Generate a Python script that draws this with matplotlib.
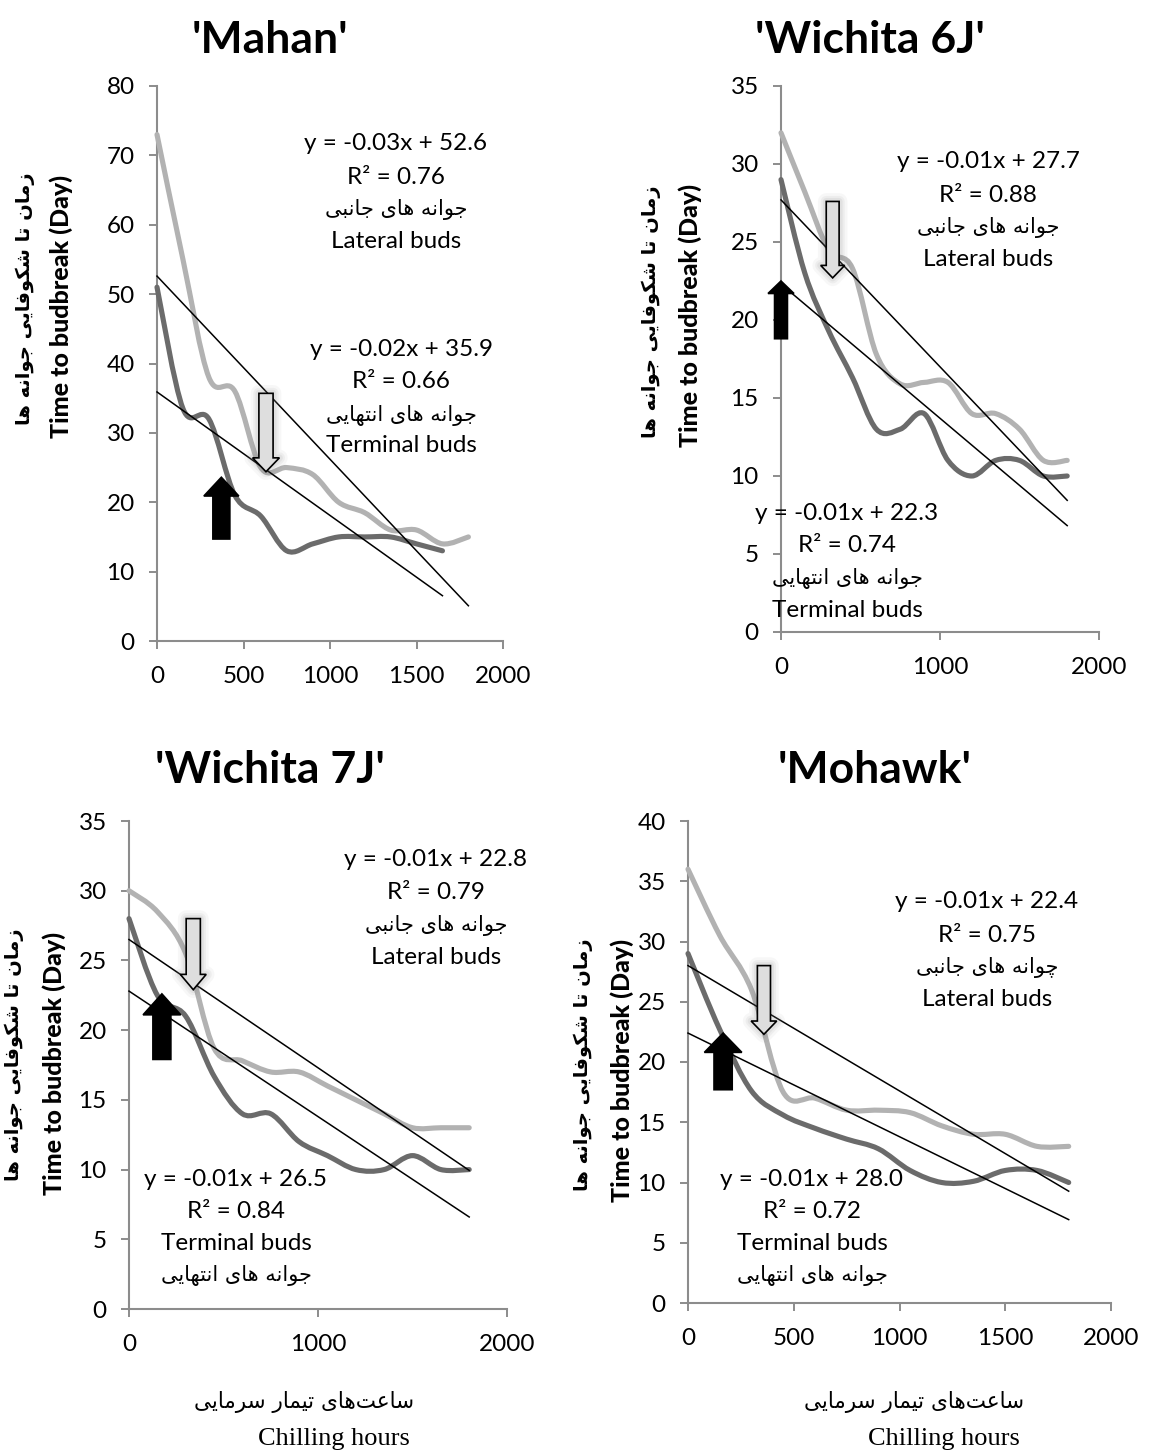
import numpy as np
import matplotlib
matplotlib.use('Agg')
import matplotlib.pyplot as plt
from matplotlib.path import Path
from matplotlib.patches import PathPatch, Polygon

plt.rcParams['font.family'] = ['Lato', 'DejaVu Sans']

W, H = 1157, 1456  # 输出像素大小

# 低温处理小时数
hours = [0, 150, 300, 450, 600, 750, 900, 1050, 1200, 1350, 1500, 1650, 1800]

# 萌芽所需天数：侧芽(lat) / 顶芽(term)
mahan_lat = [73, 55, 38, 36, 25, 25, 24, 20, 18.5, 16, 16, 14, 15]
mahan_term = [51, 33.5, 32, 21, 18, 13, 14, 15, 15, 15, 14, 13]  # 只到1650
w6j_lat = [32, 28.2, 24.5, 23.3, 17.8, 15.9, 16, 16, 14, 14, 13, 11, 11]
w6j_term = [29, 23, 19.3, 16.3, 13, 13, 14, 11, 10, 11, 11, 10, 10]
w7j_lat = [30, 28.5, 25.5, 18.7, 17.8, 17, 17, 16, 15, 14, 13, 13, 13]
w7j_term = [28, 22.5, 21, 16.7, 14, 14, 12, 11, 10, 10, 11, 10, 10]
mohawk_lat = [36, 30.5, 26, 17.5, 17, 16, 16, 15.8, 14.7, 14, 14, 13, 13]
mohawk_term = [29, 22.7, 17.6, 15.6, 14.5, 13.6, 12.8, 11, 10, 10.1, 11, 11, 10]

# 趋势线 (斜率, 截距, R2)，上面一组标注在右上角，下面一组标注在下方
mahan_fit_lat = (-0.0264, 52.6, 0.76)
mahan_fit_term = (-0.0178, 35.9, 0.66)
w6j_fit_lat = (-0.0107, 27.7, 0.88)
w6j_fit_term = (-0.0086, 22.3, 0.74)
w7j_fit_lat = (-0.0090, 22.8, 0.79)
w7j_fit_term = (-0.0092, 26.5, 0.84)
mohawk_fit_lat = (-0.0086, 22.4, 0.75)
mohawk_fit_term = (-0.0104, 28.0, 0.72)

titles = ["'Mahan'", "'Wichita 6J'", "'Wichita 7J'", "'Mohawk'"]
y_max = [80, 35, 35, 40]
y_step = [10, 5, 5, 5]
x_step = [500, 1000, 1000, 500]

ylab_fa = 'زمان تا شکوفایی جوانه ها'
ylab_en = 'Time to budbreak (Day)'
lat_fa = 'جوانه های جانبی'
lat_fa2 = 'چوانه های جانبی'
term_fa = 'جوانه های انتهایی'
xlab_fa = 'ساعت\u200cهای تیمار سرمایی'
xlab_en = 'Chilling hours'

# 波斯文字形 (孤立, 词尾, 词首, 词中)
FORMS = {
    'ا': ('\uFE8D', '\uFE8E', None, None),
    'ب': ('\uFE8F', '\uFE90', '\uFE91', '\uFE92'),
    'ت': ('\uFE95', '\uFE96', '\uFE97', '\uFE98'),
    'ج': ('\uFE9D', '\uFE9E', '\uFE9F', '\uFEA0'),
    'چ': ('\uFB7A', '\uFB7B', '\uFB7C', '\uFB7D'),
    'ر': ('\uFEAD', '\uFEAE', None, None),
    'ز': ('\uFEAF', '\uFEB0', None, None),
    'س': ('\uFEB1', '\uFEB2', '\uFEB3', '\uFEB4'),
    'ش': ('\uFEB5', '\uFEB6', '\uFEB7', '\uFEB8'),
    'ع': ('\uFEC9', '\uFECA', '\uFECB', '\uFECC'),
    'ف': ('\uFED1', '\uFED2', '\uFED3', '\uFED4'),
    'ک': ('\uFB8E', '\uFB8F', '\uFB90', '\uFB91'),
    'ك': ('\uFED9', '\uFEDA', '\uFEDB', '\uFEDC'),
    'م': ('\uFEE1', '\uFEE2', '\uFEE3', '\uFEE4'),
    'ن': ('\uFEE5', '\uFEE6', '\uFEE7', '\uFEE8'),
    'ه': ('\uFEE9', '\uFEEA', '\uFEEB', '\uFEEC'),
    'و': ('\uFEED', '\uFEEE', None, None),
    'ی': ('\uFBFC', '\uFBFD', '\uFBFE', '\uFBFF'),
    'ي': ('\uFEF1', '\uFEF2', '\uFEF3', '\uFEF4'),
}


def fa(s):
    # 连写 + 从右到左
    out = []
    for i, c in enumerate(s):
        if c not in FORMS:
            if c != '\u200c':
                out.append(c)
            continue
        prev = s[i - 1] if i > 0 else ''
        nxt = s[i + 1] if i + 1 < len(s) else ''
        join_prev = prev in FORMS and FORMS[prev][2] is not None
        join_next = FORMS[c][2] is not None and nxt in FORMS
        f = FORMS[c]
        if join_prev and join_next:
            out.append(f[3])
        elif join_prev:
            out.append(f[1])
        elif join_next:
            out.append(f[2])
        else:
            out.append(f[0])
    return ''.join(out[::-1])


fig = plt.figure(figsize=(W / 100, H / 100), dpi=100)
fig.patch.set_facecolor('white')


def put(x, y, s, **kw):
    kw.setdefault('ha', 'center')
    kw.setdefault('va', 'center')
    fig.text(x / W, 1 - y / H, s, **kw)


def smooth(x, y):
    # Excel式平滑线：Catmull-Rom 转三次贝塞尔
    x = np.asarray(x, float)
    y = np.asarray(y, float)
    n = len(x)
    verts = [(x[0], y[0])]
    codes = [Path.MOVETO]
    for i in range(n - 1):
        a = max(i - 1, 0)
        d = min(i + 2, n - 1)
        verts.append((x[i] + (x[i + 1] - x[a]) / 6, y[i] + (y[i + 1] - y[a]) / 6))
        verts.append((x[i + 1] - (x[d] - x[i]) / 6, y[i + 1] - (y[d] - y[i]) / 6))
        verts.append((x[i + 1], y[i + 1]))
        codes += [Path.CURVE4] * 3
    return Path(verts, codes)


def block_arrow(ax, xt, yt, sw, hw, hl, length, up, face, glow=False):
    d = 1 if up else -1
    base = yt - d * hl
    end = yt - d * length
    pts = [(xt - sw / 2, end), (xt - sw / 2, base), (xt - hw / 2, base), (xt, yt),
           (xt + hw / 2, base), (xt + sw / 2, base), (xt + sw / 2, end)]
    if glow:
        # 灰箭头外面一圈淡淡的光晕
        for lw, al in [(12, 0.06), (8, 0.08), (5, 0.10)]:
            ax.add_patch(Polygon(pts, closed=True, fill=False, ec='#808080', lw=lw,
                                 alpha=al, joinstyle='round', zorder=5, clip_on=False))
    ax.add_patch(Polygon(pts, closed=True, fc=face, ec='black', lw=1.2,
                         zorder=6, clip_on=False))


# 每个子图的像素框 (左, 上, 右, 下)
boxes = [(157, 86, 503, 641), (781, 86, 1099, 632), (129, 821, 507, 1309), (688, 821, 1111, 1303)]
series = [(mahan_lat, mahan_term), (w6j_lat, w6j_term), (w7j_lat, w7j_term), (mohawk_lat, mohawk_term)]
fits = [(mahan_fit_lat, mahan_fit_term), (w6j_fit_lat, w6j_fit_term),
        (w7j_fit_lat, w7j_fit_term), (mohawk_fit_lat, mohawk_fit_term)]
# 趋势线画到的x终点
fit_end = [(1800, 1650), (1800, 1800), (1800, 1800), (1800, 1800)]
# 箭头: (x尖, y尖, 杆宽, 头宽, 头长, 总长)
gray_arrows = [(630, 24.4, 82, 155, 2.0, 11.3), (325, 22.7, 81, 151, 0.8, 4.9),
               (340, 22.9, 75, 137, 1.1, 5.1), (359, 22.3, 62, 121, 1.1, 5.7)]
black_arrows = [(372, 23.6, 98, 202, 2.7, 8.9), (0, 22.5, 81, 163, 0.8, 3.7),
                (174, 22.6, 95, 199, 1.5, 4.7), (166, 22.4, 86, 177, 1.6, 4.7)]
title_pos = [(270, 40), (870, 40), (270, 770), (875, 770)]
ylab_pos = [(25, 299, 61, 306), (651, 312, 690, 315), (14, 1055, 54, 1063), (583, 1065, 622, 1070)]
# 方程文字: (x中心, 第一行y)
lat_text = [(396, 144), (988, 162), (436, 859), (987, 902)]
term_text = [(401, 349), (847, 513), (236, 1179), (812, 1179)]

C_LAT = '#b2b2b2'
C_TERM = '#6b6b6b'
GRID = '#8c8c8c'
EQ = 17.5
FA = 15

for k in range(4):
    l, t, r, b = boxes[k]
    ax = fig.add_axes([l / W, 1 - b / H, (r - l) / W, (b - t) / H])
    ax.set_xlim(0, 2000)
    ax.set_ylim(0, y_max[k])
    ax.set_xticks(np.arange(0, 2001, x_step[k]))
    ax.set_yticks(np.arange(0, y_max[k] + 1, y_step[k]))
    ax.spines['top'].set_visible(False)
    ax.spines['right'].set_visible(False)
    for s in ['left', 'bottom']:
        ax.spines[s].set_color(GRID)
        ax.spines[s].set_linewidth(1.5)
    ax.tick_params(direction='out', length=6, width=1.4, color=GRID, labelsize=17.5)
    ax.tick_params(axis='y', pad=10)
    ax.tick_params(axis='x', pad=12)

    lat, term = series[k]
    ax.add_patch(PathPatch(smooth(hours[:len(lat)], lat), fill=False, ec=C_LAT, lw=3.7,
                           capstyle='round', joinstyle='round', zorder=3, clip_on=False))
    ax.add_patch(PathPatch(smooth(hours[:len(term)], term), fill=False, ec=C_TERM, lw=3.7,
                           capstyle='round', joinstyle='round', zorder=3, clip_on=False))

    for fit, xe in zip(fits[k], fit_end[k]):
        xs = np.array([0, xe])
        ax.plot(xs, fit[0] * xs + fit[1], color='black', lw=1.1, zorder=4, clip_on=False)

    block_arrow(ax, *gray_arrows[k], up=False, face='#dedede', glow=True)
    block_arrow(ax, *black_arrows[k], up=True, face='black')

    put(*title_pos[k], titles[k], fontsize=32, fontweight='bold')
    xf, yf, xe_, ye_ = ylab_pos[k]
    put(xf, yf, fa(ylab_fa), rotation=90, fontsize=14, fontweight='bold', family='DejaVu Sans')
    put(xe_, ye_, ylab_en, rotation=90, fontsize=18, fontweight='black')

    fl, ft = fits[k]
    x0, y0 = lat_text[k]
    put(x0, y0, f'y = {fl[0]:.2f}x + {fl[1]:.1f}', fontsize=EQ)
    put(x0, y0 + 33, f'R² = {fl[2]:.2f}', fontsize=EQ)
    put(x0, y0 + 66, fa(lat_fa2 if k == 3 else lat_fa), fontsize=FA, family='DejaVu Sans')
    put(x0, y0 + 98, 'Lateral buds', fontsize=EQ)

    x0, y0 = term_text[k]
    put(x0, y0, f'y = {ft[0]:.2f}x + {ft[1]:.1f}', fontsize=EQ)
    put(x0, y0 + 33, f'R² = {ft[2]:.2f}', fontsize=EQ)
    if k < 2:
        put(x0, y0 + 66, fa(term_fa), fontsize=FA, family='DejaVu Sans')
        put(x0, y0 + 97, 'Terminal buds', fontsize=EQ)
    else:
        put(x0, y0 + 65, 'Terminal buds', fontsize=EQ)
        put(x0, y0 + 97, fa(term_fa), fontsize=FA, family='DejaVu Sans')

# 底部x轴标题
for xc_fa, xc_en in [(304, 334), (914, 944)]:
    put(xc_fa, 1402, fa(xlab_fa), fontsize=15.5, family='DejaVu Sans')
    put(xc_en, 1439, xlab_en, fontsize=19, family='Liberation Serif')

fig.savefig('out.png', dpi=100, facecolor='white')
